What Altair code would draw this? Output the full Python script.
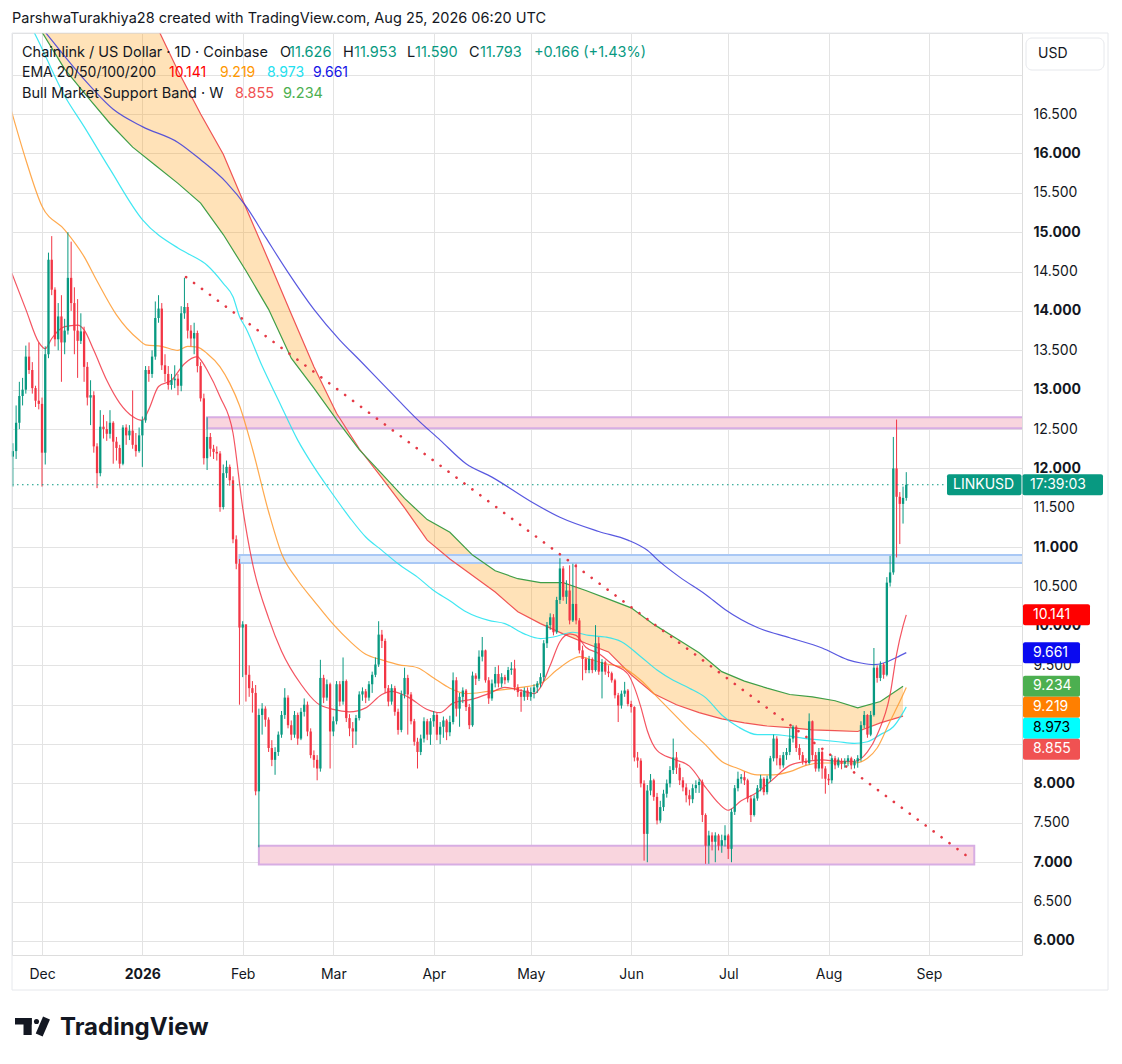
import altair as alt
import pandas as pd

FONT = "Inter"
DARK = "#131722"
UP = "#089981"
DOWN = "#F23645"
GRID = "#E3E3E3"

# ---------------- daily candles, LINK/USD Coinbase 1D ----------------
FIRST_DAY = "2025-11-22"
FIRST_OPEN = 12.15
closes = [
    # Nov 22-30
    12.22, 12.58, 12.92, 13.00, 13.42, 13.25, 13.02, 12.86, 12.82,
    # Dec
    12.20, 13.45, 14.65, 14.27, 13.64, 13.93, 13.60, 13.75, 14.42, 14.10,
    13.75, 13.62, 13.74, 13.29, 12.90, 12.93, 12.28, 11.94, 12.53, 12.50,
    12.44, 12.58, 12.34, 12.26, 12.06, 12.52, 12.42, 12.48, 12.30, 12.22, 12.42,
    # Jan
    12.61, 13.25, 13.20, 13.42, 13.91, 14.03, 13.31, 13.20, 13.06, 13.12,
    13.14, 13.05, 13.97, 14.05, 13.75, 13.65, 13.72, 13.30, 12.89, 12.13,
    12.40, 12.25, 12.21, 12.19, 11.51, 11.94, 12.02, 11.85, 11.10, 10.79, 9.98,
    # Feb
    10.02, 9.38, 9.21, 9.15, 7.90, 8.87, 8.95, 8.81, 8.45, 8.30,
    8.40, 8.62, 8.87, 9.09, 8.74, 8.62, 8.87, 8.57, 8.91, 9.00,
    8.66, 8.36, 8.30, 8.19, 9.34, 9.09, 9.26, 8.66,
    # Mar
    8.79, 9.26, 9.04, 9.30, 8.83, 8.70, 8.66, 8.83, 9.13, 9.17,
    9.09, 9.26, 9.38, 9.51, 9.89, 9.81, 9.21, 9.04, 9.21, 8.91,
    8.68, 9.13, 9.34, 9.13, 8.79, 8.53, 8.40, 8.57, 8.79, 8.62, 8.79,
    # Apr
    8.87, 8.62, 8.72, 8.80, 8.65, 8.78, 9.31, 8.95, 9.10, 9.18,
    8.97, 8.74, 9.37, 9.33, 9.61, 9.69, 9.31, 9.08, 9.27, 9.39,
    9.27, 9.35, 9.31, 9.44, 9.46, 9.22, 9.16, 9.10, 9.18, 9.10,
    # May
    9.16, 9.22, 9.27, 9.35, 9.78, 10.01, 10.11, 9.92, 10.33, 10.73,
    10.37, 10.45, 10.07, 10.28, 10.07, 9.69, 9.58, 9.44, 9.58, 9.44,
    9.78, 9.42, 9.54, 9.42, 9.40, 9.31, 9.12, 8.99, 9.14, 9.18, 9.01,
    # Jun
    8.97, 8.33, 8.29, 8.00, 7.36, 7.91, 8.04, 7.83, 7.53, 7.70,
    7.87, 8.00, 8.17, 8.33, 8.20, 8.04, 7.95, 7.85, 7.80, 7.94,
    7.98, 8.02, 7.60, 7.21, 7.34, 7.26, 7.34, 7.21, 7.28, 7.34,
    # Jul
    7.17, 7.64, 7.94, 8.06, 8.08, 8.04, 7.81, 7.60, 7.81, 7.94,
    8.06, 7.89, 8.06, 8.32, 8.57, 8.32, 8.23, 8.36, 8.40, 8.57,
    8.72, 8.45, 8.36, 8.28, 8.26, 8.79, 8.36, 8.19, 8.40, 8.19, 8.06,
    # Aug 1-25
    8.04, 8.32, 8.23, 8.28, 8.25, 8.28, 8.32, 8.23, 8.28, 8.32,
    8.74, 8.87, 8.62, 8.87, 9.47, 9.34, 9.51, 9.38, 10.55, 10.68,
    12.00, 11.64, 11.55, 11.626, 11.793,
]
highs = [
    12.32, 12.80, 13.10, 13.15, 13.56, 13.60, 13.35, 13.05, 13.60,
    12.90, 13.55, 14.74, 14.95, 14.30, 14.10, 14.20, 13.90, 15.00, 14.88,
    14.30, 14.15, 13.97, 13.80, 13.35, 13.12, 12.98, 12.32, 12.74, 12.68,
    12.60, 12.74, 12.60, 12.40, 12.30, 12.55, 12.56, 12.55, 12.99, 12.45, 12.52,
    12.66, 13.30, 13.30, 13.50, 14.12, 14.20, 14.10, 13.45, 13.30, 13.20,
    13.31, 13.20, 14.06, 14.42, 14.10, 13.82, 13.85, 13.75, 13.35, 12.95,
    12.65, 12.45, 12.30, 12.28, 12.22, 12.05, 12.10, 12.05, 11.90, 11.15, 10.85,
    10.06, 10.00, 9.50, 9.30, 9.25, 8.95, 9.02, 8.98, 8.84, 8.55,
    8.46, 8.66, 8.92, 9.21, 9.12, 8.80, 8.92, 8.90, 8.96, 9.08,
    9.04, 8.70, 8.42, 8.36, 9.57, 9.38, 9.32, 9.28,
    8.85, 9.30, 9.30, 9.60, 9.32, 8.88, 8.78, 8.87, 9.17, 9.22,
    9.20, 9.30, 9.42, 9.60, 10.06, 9.95, 9.84, 9.25, 9.26, 9.24,
    8.95, 9.18, 9.47, 9.38, 9.16, 8.82, 8.58, 8.62, 8.84, 8.82, 8.83,
    8.92, 8.90, 8.78, 8.85, 8.82, 8.86, 9.41, 9.35, 9.15, 9.22,
    9.20, 9.01, 9.42, 9.40, 9.69, 9.86, 9.70, 9.35, 9.32, 9.48,
    9.50, 9.40, 9.38, 9.48, 9.54, 9.57, 9.26, 9.20, 9.22, 9.22,
    9.22, 9.26, 9.30, 9.40, 9.82, 10.05, 10.16, 10.15, 10.37, 10.86,
    10.76, 10.58, 10.77, 10.79, 10.79, 10.10, 9.75, 9.60, 9.62, 9.60,
    10.01, 9.86, 9.58, 9.56, 9.50, 9.42, 9.33, 9.15, 9.18, 9.29, 9.20,
    9.05, 8.98, 8.40, 8.32, 8.04, 7.98, 8.12, 8.06, 7.88, 7.78,
    7.92, 8.05, 8.22, 8.57, 8.40, 8.25, 8.08, 8.00, 7.92, 7.99,
    8.04, 8.06, 8.05, 7.62, 7.40, 7.38, 7.38, 7.36, 7.35, 7.47,
    7.36, 7.68, 7.98, 8.15, 8.12, 8.15, 8.06, 7.85, 7.85, 7.98,
    8.11, 8.08, 8.10, 8.35, 8.62, 8.60, 8.36, 8.40, 8.45, 8.70,
    8.74, 8.74, 8.50, 8.40, 8.32, 8.89, 8.80, 8.40, 8.45, 8.42, 8.22,
    8.12, 8.36, 8.35, 8.33, 8.32, 8.32, 8.36, 8.34, 8.31, 8.36,
    8.79, 8.92, 8.88, 8.92, 9.72, 9.50, 9.55, 9.53, 10.62, 10.89,
    12.40, 12.62, 11.70, 11.77, 11.953,
]
lows = [
    11.77, 12.12, 12.50, 12.80, 12.95, 13.20, 12.95, 12.78, 12.75,
    11.77, 12.05, 13.40, 14.20, 13.55, 13.50, 13.10, 13.45, 13.70, 14.00,
    13.45, 13.15, 13.58, 13.10, 12.80, 12.55, 12.20, 11.75, 11.90, 12.38,
    12.35, 12.38, 12.06, 12.10, 12.00, 12.04, 12.30, 12.36, 12.25, 12.15, 12.20,
    12.02, 12.58, 13.10, 13.15, 13.38, 13.85, 13.25, 13.10, 13.00, 13.00,
    13.02, 12.93, 12.98, 13.90, 13.65, 13.55, 13.45, 13.22, 12.85, 12.05,
    11.98, 12.15, 12.12, 12.10, 11.45, 11.48, 11.88, 11.78, 11.05, 10.72, 9.00,
    9.35, 9.04, 9.10, 8.90, 7.85, 7.19, 8.62, 8.72, 8.40, 8.22,
    8.11, 8.35, 8.58, 8.82, 8.70, 8.55, 8.58, 8.49, 8.55, 8.85,
    8.60, 8.32, 8.20, 8.04, 8.15, 9.02, 9.05, 8.19,
    8.60, 8.75, 8.98, 9.00, 8.78, 8.60, 8.45, 8.49, 8.80, 9.05,
    9.02, 9.05, 9.15, 9.35, 9.48, 9.72, 9.15, 8.98, 9.00, 8.86,
    8.62, 8.65, 9.08, 8.62, 8.75, 8.48, 8.19, 8.36, 8.52, 8.55, 8.49,
    8.72, 8.55, 8.50, 8.58, 8.55, 8.60, 8.75, 8.85, 8.72, 9.02,
    8.92, 8.69, 8.72, 9.25, 9.30, 9.55, 9.28, 9.01, 9.05, 9.22,
    9.22, 9.22, 9.26, 9.28, 9.38, 9.18, 9.10, 8.91, 9.05, 9.06,
    9.05, 9.08, 9.15, 9.22, 9.30, 9.72, 9.95, 9.88, 9.90, 10.28,
    10.32, 10.28, 10.02, 10.05, 10.02, 9.65, 9.31, 9.40, 9.40, 9.40,
    9.42, 9.38, 9.08, 9.38, 9.35, 9.28, 9.08, 8.78, 8.95, 9.10, 8.98,
    8.90, 8.28, 8.20, 7.95, 7.02, 7.00, 7.85, 7.78, 7.48, 7.50,
    7.65, 7.82, 7.95, 8.12, 8.12, 7.98, 7.90, 7.76, 7.72, 7.75,
    7.88, 7.88, 7.51, 6.98, 6.98, 7.15, 7.00, 7.15, 7.12, 7.20,
    7.04, 7.00, 7.60, 7.90, 8.00, 7.98, 7.76, 7.51, 7.58, 7.78,
    7.90, 7.85, 7.86, 8.02, 8.28, 8.23, 8.18, 8.20, 8.30, 8.36,
    8.52, 8.40, 8.30, 8.24, 8.23, 8.24, 8.30, 8.15, 8.15, 8.06, 7.87,
    7.98, 8.00, 8.18, 8.20, 8.18, 8.20, 8.22, 8.18, 8.19, 8.20,
    8.28, 8.70, 8.58, 8.60, 8.85, 9.28, 9.30, 9.33, 9.36, 10.50,
    10.65, 10.87, 11.04, 11.30, 11.590,
]
ohlc_header = ["11.626", "11.953", "11.590", "11.793", "+0.166 (+1.43%)"]

# ---------------- EMA 20 / 50 / 100 / 200 (daily) ----------------
ema20_dates = ["2025-11-21", "2025-11-26", "2025-11-30", "2025-12-02", "2025-12-04", "2025-12-08", "2025-12-12",
               "2025-12-14", "2025-12-17", "2025-12-21", "2025-12-25", "2025-12-29", "2026-01-01", "2026-01-03",
               "2026-01-06", "2026-01-10", "2026-01-14", "2026-01-18", "2026-01-19", "2026-01-21", "2026-01-25",
               "2026-01-29", "2026-02-01", "2026-02-04", "2026-02-09", "2026-02-13", "2026-02-19", "2026-02-24",
               "2026-03-01", "2026-03-06", "2026-03-11", "2026-03-16", "2026-03-19", "2026-03-24", "2026-03-30",
               "2026-04-03", "2026-04-07", "2026-04-13", "2026-04-18", "2026-04-23", "2026-04-28", "2026-05-02",
               "2026-05-04", "2026-05-07", "2026-05-10", "2026-05-13", "2026-05-15", "2026-05-18", "2026-05-22",
               "2026-05-26", "2026-05-31", "2026-06-02", "2026-06-04", "2026-06-06", "2026-06-09", "2026-06-14",
               "2026-06-19", "2026-06-24", "2026-06-28", "2026-07-01", "2026-07-05", "2026-07-10", "2026-07-15",
               "2026-07-20", "2026-07-25", "2026-07-30", "2026-08-04", "2026-08-09", "2026-08-13", "2026-08-16",
               "2026-08-20", "2026-08-22", "2026-08-24", "2026-08-25"]
ema20_vals = [14.55, 14.02, 13.60, 13.52, 13.65, 13.80, 13.82,
              13.76, 13.50, 13.12, 12.83, 12.66, 12.61, 12.75,
              13.04, 13.12, 13.33, 13.42, 13.38, 13.25, 12.91,
              12.45, 11.50, 10.80, 10.10, 9.68, 9.26, 9.02,
              8.94, 8.91, 8.96, 9.13, 9.17, 9.10, 8.94,
              8.90, 9.02, 9.07, 9.14, 9.22, 9.18, 9.14,
              9.22, 9.50, 9.80, 9.90, 9.88, 9.73, 9.65,
              9.52, 9.39, 9.22, 8.97, 8.67, 8.42, 8.31,
              8.22, 7.95, 7.75, 7.66, 7.78, 7.89, 8.06,
              8.23, 8.28, 8.30, 8.28, 8.28, 8.40, 8.62,
              9.13, 9.64, 10.00, 10.141]

ema50_dates = ["2025-11-21", "2025-11-26", "2025-12-01", "2025-12-08", "2025-12-14", "2025-12-18", "2025-12-24",
               "2025-12-31", "2026-01-02", "2026-01-07", "2026-01-12", "2026-01-15", "2026-01-18", "2026-01-21",
               "2026-01-25", "2026-01-28", "2026-01-31", "2026-02-04", "2026-02-09", "2026-02-13", "2026-02-18",
               "2026-02-23", "2026-03-01", "2026-03-06", "2026-03-11", "2026-03-16", "2026-03-21", "2026-03-27",
               "2026-04-01", "2026-04-06", "2026-04-11", "2026-04-18", "2026-04-28", "2026-05-04", "2026-05-09",
               "2026-05-14", "2026-05-16", "2026-05-19", "2026-05-24", "2026-05-29", "2026-06-04", "2026-06-09",
               "2026-06-14", "2026-06-19", "2026-06-24", "2026-06-29", "2026-07-04", "2026-07-10", "2026-07-15",
               "2026-07-20", "2026-07-25", "2026-07-30", "2026-08-04", "2026-08-09", "2026-08-13", "2026-08-16",
               "2026-08-20", "2026-08-23", "2026-08-25"]
ema50_vals = [16.62, 15.92, 15.33, 15.03, 14.69, 14.38, 13.95,
              13.63, 13.57, 13.55, 13.50, 13.55, 13.54, 13.46,
              13.29, 13.08, 12.80, 12.25, 11.45, 10.92, 10.58,
              10.32, 10.02, 9.81, 9.64, 9.57, 9.51, 9.47,
              9.34, 9.21, 9.14, 9.17, 9.22, 9.27, 9.44,
              9.58, 9.61, 9.58, 9.52, 9.48, 9.31, 9.10,
              8.89, 8.68, 8.49, 8.28, 8.19, 8.11, 8.11,
              8.15, 8.23, 8.26, 8.26, 8.26, 8.32, 8.45,
              8.79, 9.04, 9.219]

ema100_dates = ["2025-11-21", "2025-11-28", "2025-12-08", "2025-12-14", "2025-12-22", "2026-01-01", "2026-01-12",
                "2026-01-15", "2026-01-21", "2026-01-26", "2026-01-29", "2026-01-31", "2026-02-02", "2026-02-07",
                "2026-02-12", "2026-02-18", "2026-02-23", "2026-02-28", "2026-03-06", "2026-03-11", "2026-03-16",
                "2026-03-21", "2026-03-27", "2026-04-01", "2026-04-06", "2026-04-11", "2026-04-18", "2026-04-23",
                "2026-04-29", "2026-05-04", "2026-05-08", "2026-05-14", "2026-05-19", "2026-05-24", "2026-05-29",
                "2026-06-04", "2026-06-09", "2026-06-14", "2026-06-19", "2026-06-24", "2026-06-29", "2026-07-04",
                "2026-07-10", "2026-07-15", "2026-07-20", "2026-07-25", "2026-07-30", "2026-08-04", "2026-08-09",
                "2026-08-13", "2026-08-17", "2026-08-21", "2026-08-24", "2026-08-25"]
ema100_vals = [18.05, 17.58, 16.73, 16.34, 15.80, 15.16, 14.80,
               14.73, 14.58, 14.35, 14.18, 13.93, 13.78, 13.30,
               12.87, 12.36, 12.02, 11.72, 11.38, 11.13, 10.96,
               10.79, 10.62, 10.45, 10.32, 10.18, 10.07, 10.03,
               9.90, 9.84, 9.86, 9.92, 9.88, 9.86, 9.80,
               9.61, 9.44, 9.31, 9.21, 9.09, 8.87, 8.72,
               8.62, 8.62, 8.60, 8.57, 8.55, 8.53, 8.51,
               8.53, 8.62, 8.72, 8.90, 8.973]

ema200_dates = ["2025-11-21", "2025-12-02", "2025-12-14", "2025-12-23", "2026-01-01", "2026-01-12", "2026-01-19",
                "2026-01-27", "2026-02-02", "2026-02-08", "2026-02-15", "2026-02-23", "2026-03-03", "2026-03-09",
                "2026-03-21", "2026-03-27", "2026-04-03", "2026-04-11", "2026-04-19", "2026-05-01", "2026-05-10",
                "2026-05-22", "2026-05-31", "2026-06-06", "2026-06-10", "2026-06-16", "2026-06-24", "2026-06-30",
                "2026-07-10", "2026-07-20", "2026-07-30", "2026-08-07", "2026-08-11", "2026-08-15", "2026-08-18",
                "2026-08-22", "2026-08-25"]
ema200_vals = [18.12, 17.54, 16.94, 16.56, 16.34, 16.14, 15.92,
               15.63, 15.33, 14.94, 14.49, 14.02, 13.63, 13.38,
               12.87, 12.62, 12.36, 12.06, 11.89, 11.58, 11.38,
               11.20, 11.09, 10.96, 10.81, 10.62, 10.40, 10.21,
               9.98, 9.85, 9.72, 9.57, 9.53, 9.51, 9.53,
               9.60, 9.661]

# ---------------- Bull Market Support Band (weekly) ----------------
band_weeks = ["2025-11-17", "2025-11-24", "2025-12-01", "2025-12-08", "2025-12-15", "2025-12-22", "2025-12-29",
              "2026-01-05", "2026-01-12", "2026-01-19", "2026-01-26", "2026-02-02", "2026-02-09", "2026-02-16",
              "2026-02-23", "2026-03-02", "2026-03-09", "2026-03-16", "2026-03-23", "2026-03-30", "2026-04-06",
              "2026-04-13", "2026-04-20", "2026-04-27", "2026-05-04", "2026-05-11", "2026-05-18", "2026-05-25",
              "2026-06-01", "2026-06-08", "2026-06-15", "2026-06-22", "2026-06-29", "2026-07-06", "2026-07-13",
              "2026-07-20", "2026-07-27", "2026-08-03", "2026-08-10", "2026-08-17", "2026-08-24"]
band_sma20 = [21.9, 21.3, 20.7, 20.1, 19.5, 18.9, 18.2,
              17.65, 17.05, 16.50, 15.99, 15.31, 14.64, 13.96,
              13.29, 12.70, 12.25, 11.88, 11.50, 11.09, 10.85,
              10.64, 10.43, 10.18, 10.03, 9.90, 9.78, 9.67,
              9.38, 9.14, 9.00, 8.90, 8.82, 8.77, 8.73,
              8.71, 8.68, 8.67, 8.66, 8.77, 8.855]
band_ema21 = [18.40, 17.95, 17.54, 17.07, 16.72, 16.38, 16.08,
              15.85, 15.62, 15.37, 14.97, 14.51, 14.02, 13.40,
              13.02, 12.62, 12.24, 11.93, 11.62, 11.35, 11.19,
              10.90, 10.70, 10.60, 10.55, 10.55, 10.45, 10.34,
              10.23, 10.02, 9.84, 9.66, 9.42, 9.30, 9.21,
              9.13, 9.10, 9.05, 8.96, 9.04, 9.234]

# ---------------- drawings ----------------
zone_starts = ["2026-01-21", "2026-01-31", "2026-02-06"]
zone_ends = ["2026-10-30", "2026-10-30", "2026-09-15"]
zone_lo = [12.51, 10.80, 6.97]
zone_hi = [12.65, 10.90, 7.21]
zone_kind = ["pink", "blue", "pink"]
trend_dates = ["2026-01-14T12:00:00Z", "2026-09-13T16:00:00Z"]
trend_vals = [14.43, 7.05]

month_ticks = [(2025, 12), (2026, 1), (2026, 2), (2026, 3), (2026, 4), (2026, 5),
               (2026, 6), (2026, 7), (2026, 8), (2026, 9)]
price_ticks = [6 + 0.5 * i for i in range(23)]
hidden_price_labels = [8.5, 9.0, 17.0]   # covered by the indicator tags / the USD box

# ---------------- tables ----------------
dates = pd.date_range(FIRST_DAY, periods=len(closes), freq="D")
opens = [FIRST_OPEN] + closes[:-1]
cd = pd.DataFrame({"date": dates.strftime("%Y-%m-%d"), "open": opens, "close": closes,
                   "high": highs, "low": lows})
cd["high"] = cd[["high", "open", "close"]].max(axis=1)
cd["low"] = cd[["low", "open", "close"]].min(axis=1)
cd["dir"] = ["up" if c >= o else "down" for o, c in zip(cd["open"], cd["close"])]
btop = cd[["open", "close"]].max(axis=1)
bbot = cd[["open", "close"]].min(axis=1)
mid = (btop + bbot) / 2
thin = (btop - bbot) < 0.012
cd["btop"] = btop.where(~thin, mid + 0.006)
cd["bbot"] = bbot.where(~thin, mid - 0.006)

def line_df(d, v):
    return pd.DataFrame({"date": d, "v": v})

band = pd.DataFrame({"date": band_weeks, "sma": band_sma20, "ema": band_ema21})
zones = pd.DataFrame({"date": zone_starts, "end": zone_ends, "lo": zone_lo, "hi": zone_hi, "kind": zone_kind})
trend = line_df(trend_dates, trend_vals)

# ---------------- scales / axes ----------------
W, H = 1010, 922
Y0, Y1 = 5.822, 17.529
OX, OY = 12, 33  # plot origin on the page
PPU = H / (Y1 - Y0)

x_scale = alt.Scale(type="utc", domain=[
    alt.DateTime(year=2025, month=11, date=21, hours=17, minutes=30, utc=True),
    alt.DateTime(year=2026, month=9, date=29, hours=18, utc=True)])
x_axis = alt.Axis(
    values=[alt.DateTime(year=y, month=m, date=1, utc=True) for y, m in month_ticks],
    labelExpr="utcmonth(datum.value) == 0 ? utcFormat(datum.value, '%Y') : utcFormat(datum.value, '%b')",
    labelFontWeight={"condition": {"test": "utcmonth(datum.value) == 0", "value": "bold"}, "value": "normal"},
    grid=True, gridColor=GRID, domain=False, ticks=False, tickSize=0, labelPadding=12,
    labelFont=FONT, labelFontSize=14, labelColor=DARK, labelAngle=0, title=None)
hide_test = " || ".join(f"abs(datum.value - {v}) < 0.01" for v in hidden_price_labels)
y_scale = alt.Scale(domain=[Y0, Y1], nice=False, zero=False)
y_axis = alt.Axis(
    orient="right", values=price_ticks,
    labelExpr=f"({hide_test}) ? '' : format(datum.value, '.3f')",
    labelFontWeight={"condition": {"test": "abs(datum.value - round(datum.value)) < 0.01", "value": "bold"},
                     "value": "normal"},
    grid=True, gridColor=GRID, domain=False, ticks=False, tickSize=0, labelPadding=11,
    labelFont=FONT, labelFontSize=14, labelColor=DARK, title=None)

def X(f="date"):
    return alt.X(f"{f}:T", scale=x_scale, axis=x_axis, title=None)

def Y(f):
    return alt.Y(f"{f}:Q", scale=y_scale, axis=y_axis, title=None)

one = pd.DataFrame({"k": [0]})

def label(text, x, y, color=DARK, size=14.5, weight="normal", align="left", baseline="middle"):
    return alt.Chart(one).mark_text(text=text, align=align, baseline=baseline, fontSize=size,
                                    fontWeight=weight, font=FONT, color=color).encode(
        x=alt.value(x - OX), y=alt.value(y - OY))

def box(x1, x2, y1, y2, fill, stroke=None, radius=0, sw=1):
    kw = dict(fill=fill, cornerRadius=radius)
    if stroke:
        kw.update(stroke=stroke, strokeWidth=sw)
    return alt.Chart(one).mark_rect(**kw).encode(
        x=alt.value(x1 - OX), x2=alt.value(x2 - OX), y=alt.value(y1 - OY), y2=alt.value(y2 - OY))

layers = []

# band fill
layers.append(alt.Chart(band).mark_area(clip=True, color="#FF9800", opacity=0.28).encode(
    x=X(), y=Y("sma"), y2=alt.Y2("ema")))
# zones
layers.append(alt.Chart(zones).mark_rect(clip=True, strokeWidth=2).encode(
    x=X(), x2=alt.X2("end:T"), y=Y("lo"), y2=alt.Y2("hi"),
    fill=alt.Color("kind:N", scale=alt.Scale(domain=["pink", "blue"], range=["#F9D5DE", "#DDEAFB"]), legend=None),
    stroke=alt.Stroke("kind:N", scale=alt.Scale(domain=["pink", "blue"], range=["#D7ADE3", "#A9C8F5"]), legend=None)))
# band lines
layers.append(alt.Chart(band).mark_line(clip=True, color="#F05454", strokeWidth=1.2).encode(x=X(), y=Y("sma")))
layers.append(alt.Chart(band).mark_line(clip=True, color="#3F9E47", strokeWidth=1.2).encode(x=X(), y=Y("ema")))
# EMAs
for d, v, col, op in [(ema200_dates, ema200_vals, "#3B3BDB", 0.85),
                      (ema100_dates, ema100_vals, "#1FE3F0", 0.85),
                      (ema50_dates, ema50_vals, "#FF9A2E", 0.85),
                      (ema20_dates, ema20_vals, "#F23645", 0.85)]:
    layers.append(alt.Chart(line_df(d, v)).mark_line(clip=True, color=col, strokeWidth=1.2, opacity=op,
                                                     interpolate="monotone").encode(x=X(), y=Y("v")))
# trend line (dotted)
layers.append(alt.Chart(trend).mark_line(clip=True, color="#E53945", strokeWidth=2.6, strokeCap="round",
                                         strokeDash=[0.1, 9.8]).encode(x=X(), y=Y("v")))
# candles
cscale = alt.Scale(domain=["up", "down"], range=[UP, DOWN])
layers.append(alt.Chart(cd).mark_rule(strokeWidth=1).encode(
    x=X(), y=Y("low"), y2=alt.Y2("high"), color=alt.Color("dir:N", scale=cscale, legend=None)))
layers.append(alt.Chart(cd).mark_rule(strokeWidth=2.3).encode(
    x=X(), y=Y("bbot"), y2=alt.Y2("btop"), color=alt.Color("dir:N", scale=cscale, legend=None)))
# last price line
last = pd.DataFrame({"v": [closes[-1]]})
layers.append(alt.Chart(last).mark_rule(color=UP, strokeWidth=1, strokeDash=[1.5, 3.5]).encode(
    y=Y("v"), x=alt.value(0), x2=alt.value(935)))

# price tags on the scale (stacked so they do not overlap)
tags = [(f"{ema20_vals[-1]:.3f}", ema20_vals[-1], "#FF0000", "white", 67),
        (f"{ema200_vals[-1]:.3f}", ema200_vals[-1], "#0A0AF0", "white", 57),
        (f"{band_ema21[-1]:.3f}", band_ema21[-1], "#4CAF50", "white", 57),
        (f"{ema50_vals[-1]:.3f}", ema50_vals[-1], "#FF7F00", "white", 57),
        (f"{ema100_vals[-1]:.3f}", ema100_vals[-1], "#00FFFF", "black", 57),
        (f"{band_sma20[-1]:.3f}", band_sma20[-1], "#F05252", "white", 57)]
tags.sort(key=lambda t: -t[1])
prev = -1e9
for text, val, bg, fg, w in tags:
    py = (Y1 - val) * PPU
    if py < prev + 21:
        py = prev + 21
    prev = py
    c = Y1 - py / PPU
    t = pd.DataFrame({"c": [c], "top": [c + 10.5 / PPU], "bot": [c - 10.5 / PPU]})
    layers.append(alt.Chart(t).mark_rect(color=bg, cornerRadius=2).encode(
        x=alt.value(1011), x2=alt.value(1011 + w), y=Y("top"), y2=alt.Y2("bot")))
    layers.append(alt.Chart(t).mark_text(text=text, align="left", baseline="middle", font=FONT,
                                         fontSize=14, color=fg).encode(x=alt.value(1021), y=Y("c")))

# LINKUSD tag
lt = pd.DataFrame({"c": [closes[-1]], "top": [closes[-1] + 10.5 / PPU], "bot": [closes[-1] - 10.5 / PPU]})
layers.append(alt.Chart(lt).mark_rect(color=UP, cornerRadius=2).encode(
    x=alt.value(935), x2=alt.value(1009.5), y=Y("top"), y2=alt.Y2("bot")))
layers.append(alt.Chart(lt).mark_rect(color=UP, cornerRadius=2).encode(
    x=alt.value(1010.5), x2=alt.value(1091), y=Y("top"), y2=alt.Y2("bot")))
layers.append(alt.Chart(lt).mark_text(text="LINKUSD", align="left", baseline="middle", font=FONT,
                                      fontSize=14, color="white").encode(x=alt.value(941), y=Y("c")))
layers.append(alt.Chart(lt).mark_text(text="17:39:03", align="left", baseline="middle", font=FONT,
                                      fontSize=14, color="white").encode(x=alt.value(1018), y=Y("c")))

# frame and USD box
layers.append(alt.Chart(one).mark_rect(fillOpacity=0, stroke="#E6E8EC", strokeWidth=1).encode(
    x=alt.value(0), x2=alt.value(1096), y=alt.value(0), y2=alt.value(957)))
layers.append(box(1026, 1104, 38, 70, "white", stroke="#E6E8EC", radius=6))
layers.append(label("USD", 1038, 54, size=14))

# header texts
layers.append(label("ParshwaTurakhiya28 created with TradingView.com, Aug 25, 2026 06:20 UTC", 12, 19))
layers.append(label("Chainlink / US Dollar · 1D · Coinbase", 22, 53))
for letter, lx, val, vx in [("O", 280, ohlc_header[0], 289), ("H", 343, ohlc_header[1], 354),
                            ("L", 407, ohlc_header[2], 415), ("C", 469, ohlc_header[3], 480)]:
    layers.append(label(letter, lx, 53))
    layers.append(label(val, vx, 53, color=UP))
layers.append(label(ohlc_header[4], 534, 53, color=UP))
layers.append(label("EMA 20/50/100/200", 22, 73, size=14))
for val, vx, col in [(ema20_vals[-1], 169, "#FF0000"), (ema50_vals[-1], 220, "#FF9800"),
                     (ema100_vals[-1], 267, "#22E0F0"), (ema200_vals[-1], 313, "#1414E6")]:
    layers.append(label(f"{val:.3f}", vx, 73, color=col, size=14))
layers.append(label("Bull Market Support Band · W", 22, 94))
layers.append(label(f"{band_sma20[-1]:.3f}", 235, 94, color="#F05252"))
layers.append(label(f"{band_ema21[-1]:.3f}", 283, 94, color="#4CAF50"))

# TradingView logo
layers.append(box(15, 31.7, 1018, 1024.5, "#131722"))
layers.append(box(23.5, 31.7, 1018, 1035, "#131722"))
layers.append(alt.Chart(one).mark_circle(color="#131722", opacity=1, size=26).encode(
    x=alt.value(36.5 - OX), y=alt.value(1021.5 - OY)))
layers.append(alt.Chart(one).mark_rule(color="#131722", strokeWidth=7.5).encode(
    x=alt.value(46.5 - OX), x2=alt.value(39.2 - OX), y=alt.value(1018 - OY), y2=alt.value(1035 - OY)))
layers.append(label("TradingView", 60, 1034.5, size=24, weight="bold", baseline="alphabetic"))

chart = alt.layer(*layers).properties(
    width=W, height=H,
    padding={"left": OX - 8, "top": OY - 8, "right": 92, "bottom": 101},
    autosize=alt.AutoSizeParams(type="none"),
).configure_view(stroke=None).configure(background="white")

chart.save("out.html", embed_options={"renderer": "svg", "actions": False})
